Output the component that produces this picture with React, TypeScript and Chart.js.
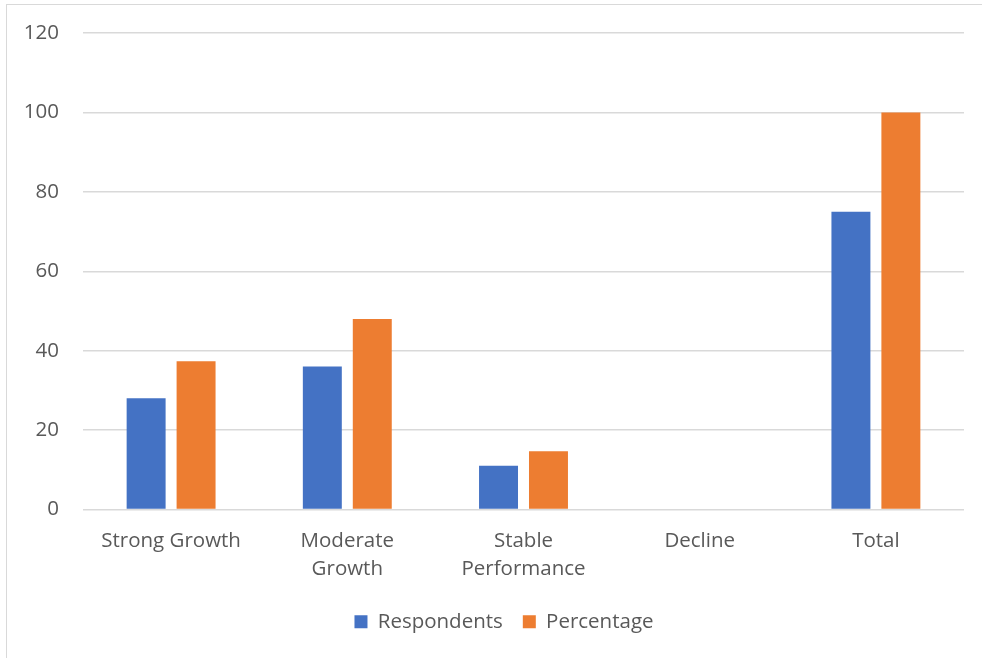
import React, { useEffect, useRef } from "react";
import { Chart, registerables } from "chart.js";

Chart.register(...registerables);

// Categories and series
const categories: (string | string[])[] = [
  "Strong Growth",
  ["Moderate", "Growth"],
  ["Stable", "Performance"],
  "Decline",
  "Total",
];
const respondents = [28, 36, 11, 0, 75];
const percentage = [37.33, 48, 14.67, 0, 100];
const yTicks = [0, 20, 40, 60, 80, 100, 120];

const FONT = "'Open Sans', 'Noto Sans', sans-serif";
const FONT_SIZE = 20.5;
const TEXT = "#595959";
const GRID = "#d9d9d9";
const LEGEND_SHIFT = 22;

// Nudges the bottom legend to the right after layout
const legendOffset = {
  id: "legendOffset",
  afterLayout(chart: any) {
    const lg = chart.legend;
    if (lg) {
      lg.left += LEGEND_SHIFT;
      lg.right += LEGEND_SHIFT;
    }
  },
};

export default function App() {
  const ref = useRef<HTMLCanvasElement | null>(null);

  useEffect(() => {
    if (!ref.current) return;
    const chart = new Chart(ref.current, {
      type: "bar",
      data: {
        labels: categories,
        datasets: [
          {
            label: "Respondents",
            data: respondents,
            backgroundColor: "#4472c4",
            borderWidth: 0,
            categoryPercentage: 0.567,
            barPercentage: 0.78,
          },
          {
            label: "Percentage",
            data: percentage,
            backgroundColor: "#ed7d31",
            borderWidth: 0,
            categoryPercentage: 0.567,
            barPercentage: 0.78,
          },
        ],
      },
      plugins: [legendOffset],
      options: {
        animation: false,
        responsive: false,
        maintainAspectRatio: false,
        layout: { padding: { left: 0, right: 18, top: 33, bottom: 16 } },
        plugins: {
          tooltip: { enabled: false },
          legend: {
            position: "bottom",
            labels: {
              boxWidth: 13,
              boxHeight: 13,
              padding: 20,
              color: TEXT,
              font: { family: FONT, size: FONT_SIZE },
            },
          },
        },
        scales: {
          x: {
            grid: { display: false, drawTicks: false },
            border: { display: false },
            ticks: {
              color: TEXT,
              font: { family: FONT, size: FONT_SIZE, lineHeight: 1.37 },
              padding: 18,
              maxRotation: 0,
              autoSkip: false,
            },
            afterFit: (s: any) => {
              s.height = 82;
            },
          },
          y: {
            min: 0,
            max: 120,
            afterBuildTicks: (s: any) => {
              s.ticks = yTicks.map((v) => ({ value: v }));
            },
            grid: { color: GRID, lineWidth: 1.5, drawTicks: false },
            border: { display: false },
            ticks: {
              color: TEXT,
              font: { family: FONT, size: FONT_SIZE },
              padding: 24,
            },
            afterFit: (s: any) => {
              s.width = 83;
              s.paddingTop = 0;
              s.paddingBottom = 0;
            },
          },
        },
      },
    });
    return () => chart.destroy();
  }, []);

  return (
    <div
      style={{
        position: "fixed",
        left: 0,
        top: 0,
        width: 982,
        height: 658,
        background: "#fff",
        overflow: "hidden",
      }}
    >
      <div
        style={{
          position: "absolute",
          left: 6,
          top: 4,
          width: 1000,
          height: 700,
          borderLeft: `1.5px solid ${GRID}`,
          borderTop: `1.5px solid ${GRID}`,
        }}
      />
      <canvas
        ref={ref}
        width={982}
        height={658}
        style={{ position: "absolute", left: 0, top: 0, width: 982, height: 658 }}
      />
    </div>
  );
}
